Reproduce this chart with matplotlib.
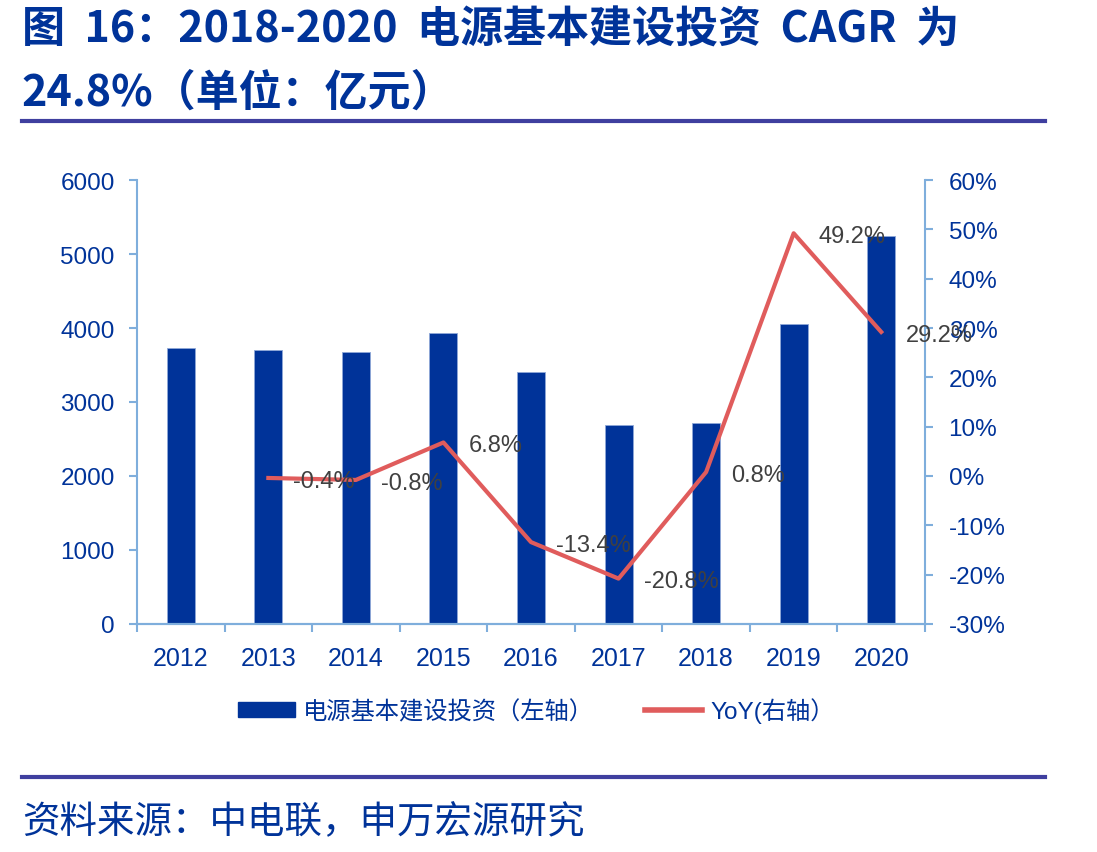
import numpy as np
import matplotlib.pyplot as plt
from matplotlib.lines import Line2D
from matplotlib.patches import Patch

plt.rcParams['font.family'] = ['Liberation Sans', 'Noto Sans CJK SC', 'DejaVu Sans']

years = ['2012', '2013', '2014', '2015', '2016', '2017', '2018', '2019', '2020']
invest = [3730, 3700, 3675, 3930, 3405, 2690, 2715, 4055, 5245]
yoy_years = years[1:]
yoy = [-0.4, -0.8, 6.8, -13.4, -20.8, 0.8, 49.2, 29.2]

navy = '#003399'
red = '#E05C5C'
axis_blue = '#7FAEDC'
rule = '#3F3F9F'
cjk = ['Noto Sans CJK SC', 'DejaVu Sans']

fig = plt.figure(figsize=(10.97, 8.53), dpi=100)
ax = fig.add_axes([0.1249, 0.2673, 0.7183, 0.5205])
ax2 = ax.twinx()

x = np.arange(len(years))
ax.bar(x, invest, width=0.32, color=navy, edgecolor='#8FA8D8', linewidth=0.6, zorder=2)
ax.set_xlim(-0.5, len(years) - 0.5)
ax.set_ylim(0, 6000)
ax.set_yticks(range(0, 6001, 1000))
ax.set_xticks(x)
ax.set_xticklabels(years)
ax.set_xticks(np.arange(-0.5, len(years), 1), minor=True)
ax.tick_params(axis='x', which='major', length=0, pad=16, labelsize=18, labelcolor=navy)
ax.tick_params(axis='x', which='minor', length=6, color=axis_blue, width=1.5, direction='out')
ax.tick_params(axis='y', length=6, color=axis_blue, width=1.5, labelsize=17.5, labelcolor=navy, pad=10)

xi = np.arange(1, len(years))
ax2.plot(xi, yoy, color=red, lw=3, zorder=3)
ax2.set_ylim(-30, 60)
ax2.set_yticks(range(-30, 61, 10))
ax2.set_yticklabels([f'{v}%' for v in range(-30, 61, 10)])
ax2.tick_params(axis='y', length=6, color=axis_blue, width=1.5, labelsize=17.5, labelcolor=navy, pad=11)
for xv, v in zip(xi, yoy):
    ax2.annotate(f'{v}%', (xv, v), xytext=(18, -2), textcoords='offset points',
                 ha='left', va='center', fontsize=17, color='#404040', zorder=4)

for a in (ax, ax2):
    a.spines['top'].set_visible(False)
    for s in ('left', 'right', 'bottom'):
        a.spines[s].set_color(axis_blue)
        a.spines[s].set_linewidth(1.5)
ax.spines['right'].set_visible(False)
ax2.spines['left'].set_visible(False)

handles = [Patch(color=navy), Line2D([0], [0], color=red, lw=4)]
labels = ['电源基本建设投资（左轴）', 'YoY(右轴）']
fig.legend(handles, labels, loc='center', bbox_to_anchor=(0.489, 0.166), ncol=2,
           frameon=False, fontsize=17.5, labelcolor=navy, handlelength=2.35,
           handleheight=0.55, columnspacing=2.1, handletextpad=0.35)

fig.text(0.02, 0.965, '图  16：2018-2020  电源基本建设投资  CAGR  为', fontsize=31,
         fontweight='bold', color=navy, va='center', ha='left', family=cjk)
fig.text(0.02, 0.891, '24.8%（单位：亿元）', fontsize=31,
         fontweight='bold', color=navy, va='center', ha='left', family=cjk)
fig.add_artist(Line2D([0.02, 0.953], [0.857, 0.857], color=rule, lw=3))
fig.add_artist(Line2D([0.02, 0.953], [0.088, 0.088], color=rule, lw=3))
fig.text(0.02, 0.036, '资料来源：中电联，申万宏源研究', fontsize=27, color=navy,
         va='center', ha='left', family=cjk)

fig.savefig('out.png', dpi=100)
